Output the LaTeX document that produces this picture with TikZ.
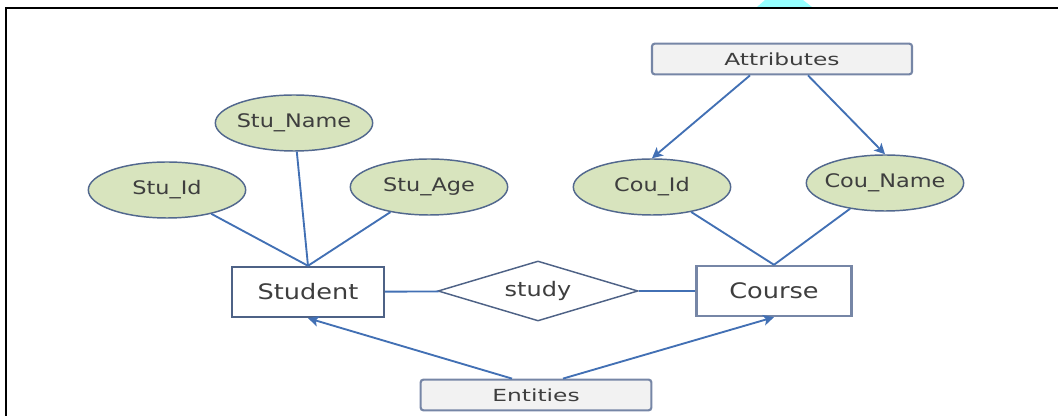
\documentclass[tikz,border=0pt]{standalone}
\usepackage{fontspec}
\newfontfamily\erfont[FakeStretch=1.2]{DejaVu Sans}
\newfontfamily\tagfont[FakeStretch=1.4]{DejaVu Sans}
\usetikzlibrary{calc, shapes.geometric, arrows.meta}

\definecolor{linkblue}{RGB}{66,112,180}
\definecolor{attrfill}{RGB}{216,228,190}
\definecolor{attrdraw}{RGB}{82,104,142}
\definecolor{boxdraw}{RGB}{78,98,134}
\definecolor{tagdraw}{RGB}{118,134,166}
\definecolor{tagfill}{RGB}{242,242,242}
\definecolor{txtgray}{RGB}{62,62,62}
\definecolor{blobcyan}{RGB}{150,255,255}

\begin{document}
\begin{tikzpicture}[x=0.75pt, y=-0.75pt, >={Stealth[length=8pt, width=8pt, inset=2pt]}]

    \tikzstyle{attr}=[ellipse, draw=attrdraw, fill=attrfill, line width=1.1pt, minimum width=118pt, minimum height=42pt, inner xsep=-6pt, inner ysep=0pt, text=txtgray, font=\erfont\fontsize{14}{16}\selectfont];
    \tikzstyle{entity}=[rectangle, draw=boxdraw, line width=1.8pt, minimum height=37.5pt, inner sep=0pt, text=txtgray, font=\erfont\fontsize{16}{18}\selectfont];
    \tikzstyle{rel}=[diamond, draw=boxdraw, line width=1.1pt, aspect=3.3, minimum width=150pt, minimum height=45pt, inner sep=0pt, text=txtgray, font=\erfont\fontsize{15}{17}\selectfont];
    \tikzstyle{tag}=[rectangle, rounded corners=2pt, draw=tagdraw, fill=tagfill, line width=1.6pt, minimum height=23pt, inner sep=0pt, text=txtgray, font=\tagfont\fontsize{12.5}{14}\selectfont];
    \tikzstyle{link}=[draw=linkblue, line width=1.4pt];

    \useasboundingbox (0,0) rectangle (1058,416);

    % frame and the cyan mark above it
    \fill[blobcyan] (757,7) -- (765,0) -- (803,0) -- (812,7) -- cycle;
    \draw[line width=1.6pt] (6,416) -- (6,8) -- (1058,8);

    \node[attr] (stuname) at (294,123) {Stu\_Name};
    \node[attr] (stuid) at (167,190) {Stu\_Id};
    \node[attr] (stuage) at (429,187) {Stu\_Age};
    \node[attr] (couid) at (652,187) {Cou\_Id};
    \node[attr] (couname) at (885,183) {Cou\_Name};

    \node[entity, minimum width=114pt] (student) at (308,292) {Student};
    \node[entity, minimum width=116pt, draw=tagdraw] (course) at (774,291) {Course};
    \node[rel] (study) at (538,291) {study};

    \node[tag, minimum width=195pt] (attributes) at (782,59) {Attributes};
    \node[tag, minimum width=173pt] (entities) at (536,395) {Entities};

    \draw[link] (stuid) -- (student.north);
    \draw[link] (stuname) -- (student.north);
    \draw[link] (stuage) -- (student.north);
    \draw[link] (couid) -- (course.north);
    \draw[link] (couname) -- (course.north);

    \draw[link] (student) -- (study);
    \draw[link] (study) -- (course);

    \draw[link, ->] ($(attributes.south)+(-32,0)$) -- (couid.north);
    \draw[link, ->] ($(attributes.south)+(26,0)$) -- (couname.north);
    \draw[link, ->] ($(entities.north)+(-24,0)$) -- (student.south);
    \draw[link, ->] ($(entities.north)+(27,0)$) -- (course.south);
\end{tikzpicture}
\end{document}
